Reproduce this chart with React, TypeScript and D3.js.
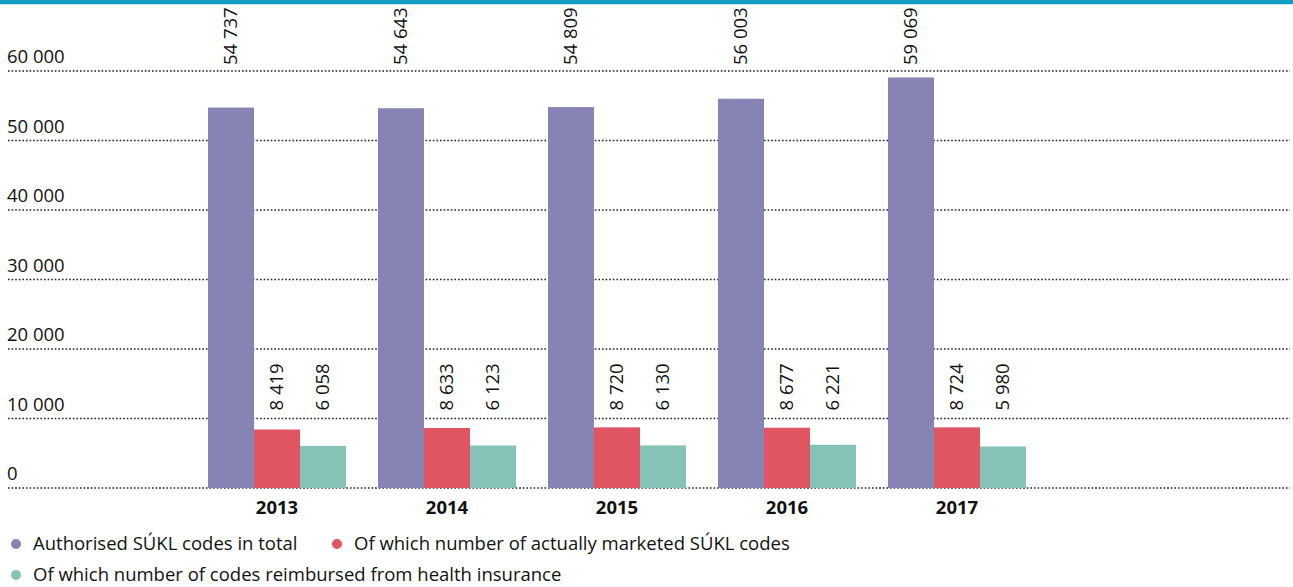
import React from "react";
import * as d3 from "d3";

const years = ["2013", "2014", "2015", "2016", "2017"];
const authorised = [54737, 54643, 54809, 56003, 59069];
const marketed = [8419, 8633, 8720, 8677, 8724];
const reimbursed = [6058, 6123, 6130, 6221, 5980];
const yTicks = [0, 10000, 20000, 30000, 40000, 50000, 60000];
const seriesNames = [
  "Authorised SÚKL codes in total",
  "Of which number of actually marketed SÚKL codes",
  "Of which number of codes reimbursed from health insurance",
];
const colors = ["#8683b5", "#e05562", "#86c3b7"];

const W = 1293;
const H = 587;
const FONT = "'Open Sans', 'Noto Sans', sans-serif";
const FS = 18.5;

const fmt = (v: number) => d3.format(",")(v).replace(/,/g, " ");

export default function App() {
  const x = d3
    .scaleBand<string>()
    .domain(years)
    .range([192, 1042])
    .paddingInner(32 / 170)
    .paddingOuter(16 / 170);
  const series = [authorised, marketed, reimbursed];
  const xs = d3
    .scaleBand<number>()
    .domain([0, 1, 2])
    .range([0, x.bandwidth()]);
  const y = d3.scaleLinear().domain([0, 60000]).range([488, 71]);

  return (
    <svg
      width={W}
      height={H}
      style={{ position: "absolute", left: 0, top: 0, background: "#fff" }}
      fontFamily={FONT}
    >
      <rect x={0} y={0} width={W} height={5} fill="#c9e9f1" />
      <rect x={0} y={0} width={W} height={4} fill="#129cc0" />

      {yTicks.map((t) => (
        <g key={t}>
          <line
            x1={8}
            x2={1290}
            y1={y(t)}
            y2={y(t)}
            stroke="#222"
            strokeWidth={1.6}
            strokeDasharray="1.6 2"
          />
          <text x={7} y={y(t) - 8} fontSize={FS} fill="#111">
            {fmt(t)}
          </text>
        </g>
      ))}

      {years.map((yr, i) => (
        <g key={yr} transform={`translate(${x(yr)},0)`}>
          {series.map((s, k) => (
            <rect
              key={k}
              x={xs(k)}
              y={y(s[i])}
              width={xs.bandwidth()}
              height={y(0) - y(s[i])}
              fill={colors[k]}
            />
          ))}
          {series.map((s, k) => {
            const cx = (xs(k) as number) + xs.bandwidth() / 2;
            const ty = k === 0 ? y(60000) - 6 : y(10000) - 8;
            return (
              <text
                key={"l" + k}
                transform={`translate(${cx + 6},${ty}) rotate(-90)`}
                fontSize={FS}
                fill="#111"
              >
                {fmt(s[i])}
              </text>
            );
          })}
          <text
            x={x.bandwidth() / 2}
            y={514}
            textAnchor="middle"
            fontSize={FS}
            fontWeight="bold"
            fill="#111"
          >
            {yr}
          </text>
        </g>
      ))}

      {[
        { k: 0, cx: 16, cy: 544 },
        { k: 1, cx: 337, cy: 544 },
        { k: 2, cx: 16, cy: 575 },
      ].map(({ k, cx, cy }) => (
        <g key={k}>
          <circle cx={cx} cy={cy} r={5} fill={colors[k]} />
          <text x={cx + 17} y={cy + 6} fontSize={FS} fill="#111">
            {seriesNames[k]}
          </text>
        </g>
      ))}
    </svg>
  );
}
